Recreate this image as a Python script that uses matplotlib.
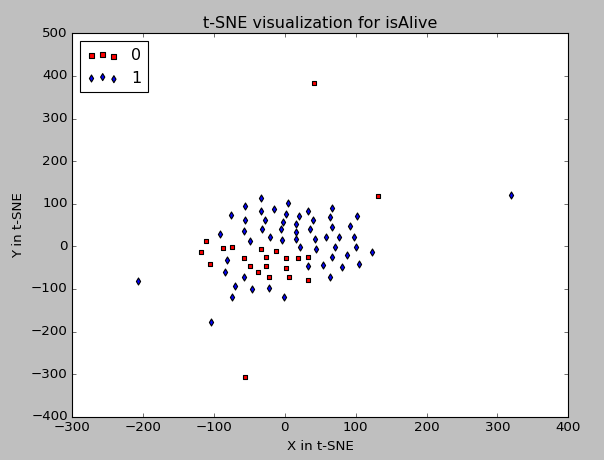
import matplotlib
matplotlib.use('Agg')
import matplotlib.pyplot as plt

plt.style.use('classic')

# t-SNE points for class 0 (red squares)
x0 = [132, -111, -118, -105, -87, -74, -57, -49, -38, -33, -26, -26, -22, -13,
      2, 1, 6, 19, 33, 32, 41, -56]
y0 = [117, 12, -14, -42, -5, -2, -28, -47, -61, -7, -24, -47, -71, -12,
      -28, -52, -71, -28, -24, -78, 383, -307]

# t-SNE points for class 1 (blue diamonds)
x1 = [-33, 5, -56, -15, -33, 1, 33, 66, -76, 20, 64, 102, -56, -28, -2, 39,
      16, 66, 92, -57, -32, -6, 15, 36, -91, -21, 15, 42, 58, 77, 98, -49,
      -4, 22, 44, 71, 101, 123, 66, 87, -81, 33, 54, 80, 105, -84, -57, 63,
      -71, -46, -22, -74, -1, -207, -104, 319]
y1 = [113, 101, 94, 87, 82, 77, 84, 89, 73, 70, 68, 70, 61, 61, 56, 61,
      52, 45, 47, 35, 40, 40, 33, 40, 28, 21, 16, 16, 23, 21, 23, 12,
      14, -2, -7, -2, -2, -14, -24, -21, -31, -47, -45, -49, -42, -61, -73, -73,
      -92, -101, -99, -120, -120, -82, -178, 120]

fig = plt.figure(figsize=(7.55, 5.75), dpi=80)
ax = fig.add_axes([0.1197, 0.0941, 0.8212, 0.8335])

ax.scatter(x0, y0, c='red', marker='s', label='0')
ax.scatter(x1, y1, c='blue', marker='d', label='1')

ax.set_xlim(-300, 400)
ax.set_ylim(-400, 500)
ax.set_title('t-SNE visualization for isAlive')
ax.set_xlabel('X in t-SNE')
ax.set_ylabel('Y in t-SNE')
ax.legend(loc='upper left')

fig.savefig('out.png', dpi=80, facecolor=fig.get_facecolor())
